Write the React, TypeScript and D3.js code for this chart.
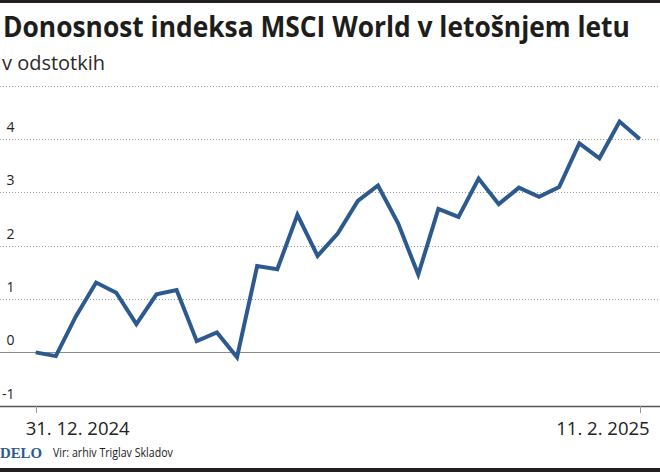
import React from "react";
import * as d3 from "d3";

const titleText = "Donosnost indeksa MSCI World v letošnjem letu";
const subtitleText = "v odstotkih";
const sourceText = "Vir: arhiv Triglav Skladov";
const logoText = "DELO";

// daily values, percent (31 trading days, 31.12.2024 – 11.2.2025)
const returns = [
  0, -0.07, 0.68, 1.31, 1.12, 0.53, 1.09, 1.17, 0.21, 0.375, -0.09,
  1.62, 1.56, 2.58, 1.81, 2.23, 2.84, 3.13, 2.42, 1.46, 2.69,
  2.54, 3.26, 2.78, 3.09, 2.92, 3.1, 3.92, 3.64, 4.33, 4.0,
];
const yTicks = [-1, 0, 1, 2, 3, 4, 5];
const yTickLabels = ["-1", "0", "1", "2", "3", "4", ""];
const xTickIndex = [0, 30];
const xTickLabels = ["31. 12. 2024", "11. 2. 2025"];

const W = 660;
const H = 472;
const LINE = "#2c5a8e";
const FONT = "'Open Sans', 'Noto Sans', sans-serif";

function measure(text: string, font: string, fallback: number): number {
  try {
    const ctx = document.createElement("canvas").getContext("2d");
    if (!ctx) return fallback;
    ctx.font = font;
    const w = ctx.measureText(text).width;
    return w > 0 ? w : fallback;
  } catch {
    return fallback;
  }
}

export default function App() {
  const x = d3.scaleLinear().domain([0, returns.length - 1]).range([35.7, 639.7]);
  const y = d3.scaleLinear().domain([-1, 5]).range([405.7, 85.8]);
  const line = d3
    .line<number>()
    .x((_, i) => x(i))
    .y((d) => y(d))
    .curve(d3.curveLinear);

  const titleW = measure(titleText, "700 28px 'Open Sans'", 740);
  const titleSx = 627 / titleW;
  const srcW = measure(sourceText, "400 13px 'Open Sans'", 170);
  const srcSx = 120 / srcW;

  return (
    <>
      <style>{"body{margin:0}"}</style>
      <svg width={W} height={H} style={{ display: "block", background: "#fff" }}>
        <rect x={0} y={0} width={W} height={3} fill="#231f20" />
        <text transform={`translate(3,37) scale(${titleSx},1)`} fontFamily={FONT} fontWeight={700}
          fontSize={28} fill="#1d1d1b">{titleText}</text>
        <text x={2} y={70} fontFamily={FONT} fontWeight={400} fontSize={20} fill="#2a2a2a"
          textLength={103} lengthAdjust="spacingAndGlyphs">{subtitleText}</text>

        {yTicks.map((t, i) => {
          const yy = Math.round(y(t)) + 0.5;
          let el;
          if (t === -1) el = <line x1={0} x2={W} y1={yy} y2={yy} stroke="#555" strokeWidth={1.3} />;
          else if (t === 0) el = <line x1={0} x2={W} y1={yy} y2={yy} stroke="#8a8a8a" strokeWidth={1.2} />;
          else el = <line x1={0} x2={W} y1={yy} y2={yy} stroke="#9a9a9a" strokeWidth={1} strokeDasharray="1,2" />;
          return (
            <g key={t}>
              {el}
              {yTickLabels[i] && (
                <text x={14.5} y={y(t) - 7} textAnchor="end" fontFamily={FONT} fontSize={14} fill="#222">
                  {yTickLabels[i]}
                </text>
              )}
            </g>
          );
        })}

        {xTickIndex.map((idx, i) => (
          <g key={idx}>
            <line x1={Math.round(x(idx)) + 0.5} x2={Math.round(x(idx)) + 0.5} y1={406} y2={413} stroke="#999" strokeWidth={1} />
            <text
              x={i === 0 ? x(idx) - 10 : x(idx) + 10}
              y={435}
              textAnchor={i === 0 ? "start" : "end"}
              fontFamily={FONT}
              fontSize={18.5}
              fill="#222"
            >
              {xTickLabels[i]}
            </text>
          </g>
        ))}

        <path d={line(returns) || ""} fill="none" stroke={LINE} strokeWidth={4}
          strokeLinejoin="miter" strokeLinecap="butt" />

        <text x={0} y={458} fontFamily="'Liberation Serif', 'DejaVu Serif', serif" fontWeight={700}
          fontSize={15} fill="#2c5a8e" textLength={42} lengthAdjust="spacingAndGlyphs">{logoText}</text>
        <text transform={`translate(53,457) scale(${srcSx},1)`} fontFamily={FONT} fontSize={13} fill="#222">
          {sourceText}
        </text>
        <rect x={0} y={468} width={W} height={4} fill="#231f20" />
      </svg>
    </>
  );
}
